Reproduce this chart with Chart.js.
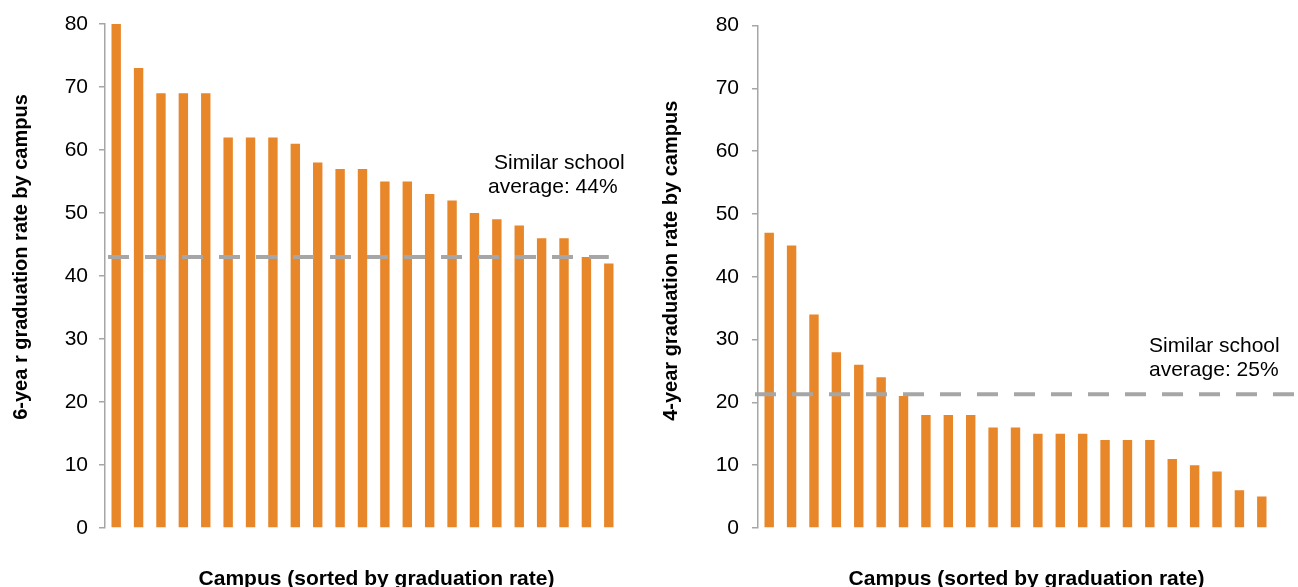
<!DOCTYPE html>
<html><head><meta charset="utf-8">
<script src="https://cdn.jsdelivr.net/npm/chart.js@4"></script>
<style>
html,body{margin:0;padding:0;background:#fff;overflow:hidden}
#wrap{position:relative;width:1298px;height:587px}
canvas{position:absolute;top:0}
</style></head><body>
<div id="wrap">
<canvas id="c1" width="649" height="587" style="left:0"></canvas>
<canvas id="c2" width="649" height="587" style="left:649px"></canvas>
</div>
<script>
// ---- data ----
const campusLabels = ['1','2','3','4','5','6','7','8','9','10','11','12','13','14','15','16','17','18','19','20','21','22','23'];
const sixYearRates = [80,73,69,69,69,62,62,62,61,58,57,57,55,55,53,52,50,49,48,46,46,43,42];
const fourYearRates = [47,45,34,28,26,24,21,18,18,18,16,16,15,15,15,14,14,14,11,10,9,6,5];
const sixYearAverage = 43;
const fourYearAverage = 21.3;
const yTickValues = [0,10,20,30,40,50,60,70,80];
const sixYearTitle = '6-yea r graduation rate by campus';
const fourYearTitle = '4-year graduation rate by campus';
const xTitle = 'Campus (sorted by graduation rate)';
const sixYearNote = ['Similar school', 'average: 44%'];
const fourYearNote = ['Similar school', 'average: 25%'];

const FONT = '"Liberation Sans", Arial, Helvetica, sans-serif';
const BAR = '#E8862A';
const GREY = '#A6A6A6';

const overlay = {
  id: 'overlay',
  afterDatasetsDraw(chart, args, o) {
    const {ctx, chartArea: a, scales: {x, y}} = chart;
    ctx.save();
    // dashed average line
    ctx.strokeStyle = GREY; ctx.lineWidth = 4; ctx.setLineDash([21, 16]);
    const yy = y.getPixelForValue(o.avg);
    const x0 = a.left + o.lineStartOffset;
    const x1 = o.lineToEdge ? chart.width : x.getPixelForValue(chart.data.labels.length - 1) + o.lineEndOffset;
    ctx.beginPath(); ctx.moveTo(x0, yy); ctx.lineTo(x1, yy); ctx.stroke();
    ctx.setLineDash([]);
    // note
    ctx.fillStyle = '#000';
    ctx.font = '21px ' + FONT;
    ctx.textAlign = 'left'; ctx.textBaseline = 'alphabetic';
    const ny = y.getPixelForValue(o.noteValue);
    o.note.forEach((t, i) => ctx.fillText(t, o.noteX[i], ny + i * 24));
    // titles
    ctx.font = 'bold 21px ' + FONT;
    ctx.textAlign = 'center';
    ctx.fillText(o.xTitle, (a.left + a.right) / 2 + o.xTitleShift, o.xTitleBaseline);
    ctx.font = 'bold 20px ' + FONT;
    ctx.translate(o.yTitleX, (a.top + a.bottom) / 2 + o.yTitleShift);
    ctx.rotate(-Math.PI / 2);
    ctx.fillText(o.yTitle, 0, 0);
    ctx.restore();
  }
};

function makeChart(id, values, yWidth, padRight, tickPad, ov) {
  return new Chart(document.getElementById(id), {
    type: 'bar',
    data: {
      labels: campusLabels,
      datasets: [{data: values, backgroundColor: BAR, borderWidth: 0, barPercentage: 0.42, categoryPercentage: 1}]
    },
    options: {
      responsive: false, animation: false, devicePixelRatio: 1,
      layout: {padding: {top: 24, right: padRight, bottom: 59, left: 0}},
      plugins: {legend: {display: false}, tooltip: {enabled: false}, overlay: ov},
      scales: {
        x: {display: false},
        y: {
          min: 0, max: 80,
          afterFit(s) { s.width = yWidth; },
          afterBuildTicks(s) { s.ticks = yTickValues.map(v => ({value: v})); },
          ticks: {padding: tickPad, color: '#000', font: {family: FONT, size: 21}},
          grid: {drawOnChartArea: false, drawTicks: true, tickLength: 6, color: GREY, lineWidth: 1.5},
          border: {display: true, color: GREY, width: 1.5}
        }
      }
    },
    plugins: [overlay]
  });
}

makeChart('c1', sixYearRates, 105, 29, 11, {
  avg: sixYearAverage, lineStartOffset: 3, lineToEdge: false, lineEndOffset: 0,
  note: sixYearNote, noteX: [494, 488], noteValue: 57,
  xTitle: xTitle, xTitleShift: 14, xTitleBaseline: 585,
  yTitle: sixYearTitle, yTitleX: 27, yTitleShift: -19
});
makeChart('c2', fourYearRates, 109, 25, 13, {
  avg: fourYearAverage, lineStartOffset: -3, lineToEdge: true, lineEndOffset: 0,
  note: fourYearNote, noteX: [500, 500], noteValue: 28.1,
  xTitle: xTitle, xTitleShift: 11, xTitleBaseline: 585,
  yTitle: fourYearTitle, yTitleX: 28, yTitleShift: -16
});
</script>
</body></html>
